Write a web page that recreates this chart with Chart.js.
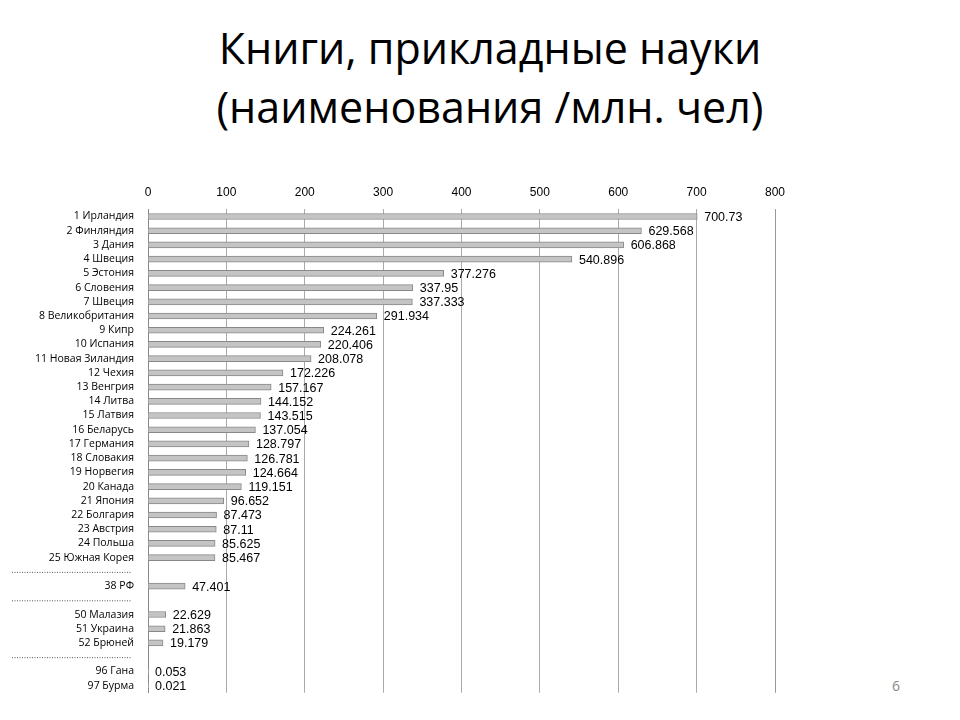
<!DOCTYPE html>
<html><head><meta charset="utf-8">
<script src="https://cdn.jsdelivr.net/npm/chart.js@4"></script>
<style>body{margin:0;background:#fff;width:960px;height:720px;overflow:hidden;font-family:"Open Sans",sans-serif}
#t{position:absolute;left:0;width:980px;text-align:center;top:18px;font-size:43px;line-height:59px;color:#000;font-family:"Open Sans",sans-serif}
#p{position:absolute;left:892px;top:676px;font-size:14px;color:#888}
#w{position:absolute;left:0;top:175px;width:800px;height:530px}</style></head><body>
<div id="t">Книги, прикладные науки<br>(наименования /млн. чел)</div>
<div id="p">6</div>
<div id="w"><canvas id="c"></canvas></div>
<script>
const categories=["1 Ирландия","2 Финляндия","3 Дания","4 Швеция","5 Эстония","6 Словения","7 Швеция","8 Великобритания","9 Кипр","10 Испания","11 Новая Зиландия","12 Чехия","13 Венгрия","14 Литва","15 Латвия","16 Беларусь","17 Германия","18 Словакия","19 Норвегия","20 Канада","21 Япония","22 Болгария","23 Австрия","24 Польша","25 Южная Корея","","38 РФ","","50 Малазия","51 Украина","52 Брюней","","96 Гана","97 Бурма"];
const values=[700.73,629.568,606.868,540.896,377.276,337.95,337.333,291.934,224.261,220.406,208.078,172.226,157.167,144.152,143.515,137.054,128.797,126.781,124.664,119.151,96.652,87.473,87.11,85.625,85.467,null,47.401,null,22.629,21.863,19.179,null,0.053,0.021];
const labels=["700.73","629.568","606.868","540.896","377.276","337.95","337.333","291.934","224.261","220.406","208.078","172.226","157.167","144.152","143.515","137.054","128.797","126.781","124.664","119.151","96.652","87.473","87.11","85.625","85.467","","47.401","","22.629","21.863","19.179","","0.053","0.021"];
const xTicks=[0,100,200,300,400,500,600,700,800];
const deco={id:'deco',afterDatasetsDraw(ch){const c=ch.ctx,y=ch.scales.y,x=ch.scales.x;c.save();
c.font='12.5px Liberation Sans, Arial';c.fillStyle='#000';c.textBaseline='middle';
ch.getDatasetMeta(0).data.forEach((b,i)=>{if(values[i]==null){c.strokeStyle='#555';c.setLineDash([1,1.5]);c.beginPath();c.moveTo(12,b.y+0.5);c.lineTo(132,b.y+0.5);c.stroke();c.setLineDash([]);return;}
c.fillText(labels[i],b.x+7,b.y+1);});
c.strokeStyle='#999';c.beginPath();c.moveTo(x.right+0.5,y.top);c.lineTo(x.right+0.5,y.bottom);c.stroke();c.restore();}};
new Chart(document.getElementById('c'),{type:'bar',
data:{labels:categories,datasets:[{data:values,barThickness:6,borderWidth:1,borderColor:'#888',backgroundColor:'#c4c4c4'}]},
options:{indexAxis:'y',responsive:true,maintainAspectRatio:false,animation:false,
layout:{padding:{left:0,right:25,top:0,bottom:0}},
plugins:{legend:{display:false},tooltip:{enabled:false}},
scales:{x:{position:'top',min:0,max:800,afterBuildTicks:s=>{s.ticks=xTicks.map(v=>({value:v}))},
ticks:{color:'#000',font:{size:12,family:'Liberation Sans'},padding:10},
grid:{color:'#aaa',drawTicks:false},border:{display:false}},
y:{afterFit:s=>{s.width=148},ticks:{color:'#000',font:{size:10.5,family:'Open Sans'},padding:6,autoSkip:false},
grid:{display:false,drawTicks:true},border:{color:'#888'}}}},
plugins:[deco]});
</script></body></html>
